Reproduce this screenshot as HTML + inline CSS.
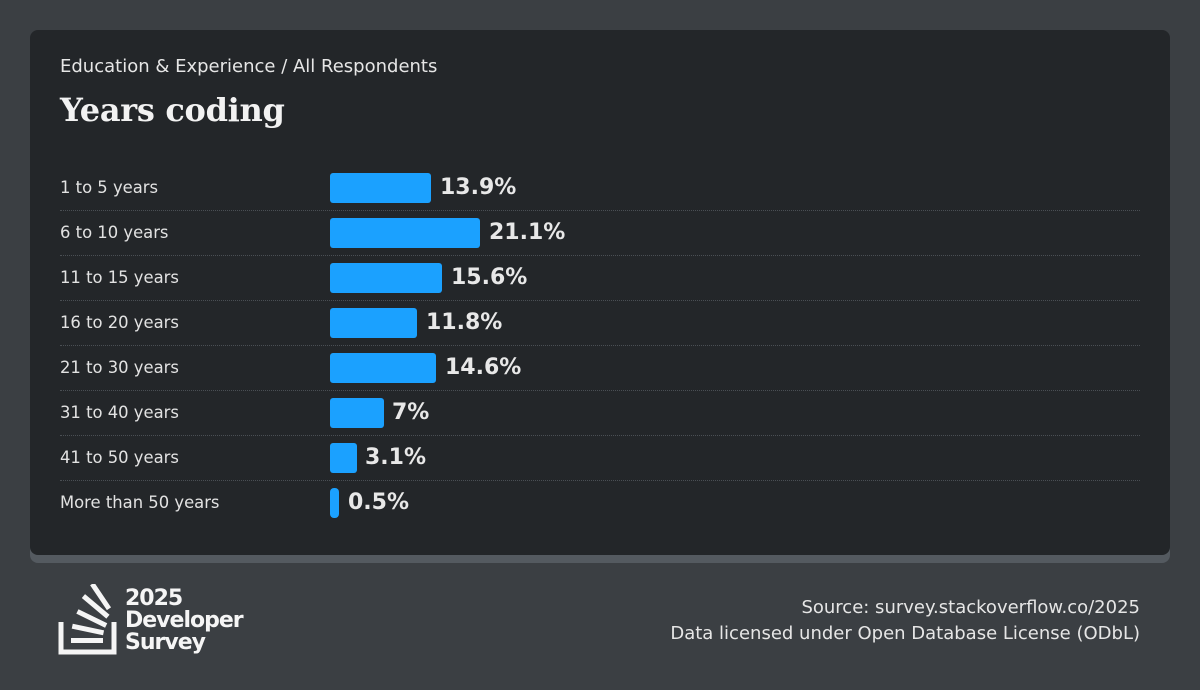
<!DOCTYPE html>
<html><head><meta charset="utf-8"><style>
body{margin:0;width:1200px;height:690px;background:#3b3f43;font-family:"DejaVu Sans","Liberation Sans",sans-serif;position:relative;overflow:hidden}
.shadow{position:absolute;left:30px;top:40px;width:1140px;height:523px;background:#545a60;border-radius:8px}
.card{position:absolute;left:30px;top:30px;width:1140px;height:525px;background:#232629;border-radius:8px}
.sub{position:absolute;left:60px;top:56px;font-size:18px;color:#e6e6e6}
.title{position:absolute;left:60px;top:91px;font-family:"DejaVu Serif",serif;font-weight:bold;font-size:32px;color:#f2f2f2;letter-spacing:-0.3px}
.row{position:absolute;left:60px;width:1080px;height:45px}
.row .lab{position:absolute;left:0;top:0;line-height:45px;font-size:16.4px;color:#e2e2e2}
.row .bar{position:absolute;left:270px;top:7.5px;height:30px;background:#1ba1ff;border-radius:3px}
.row .val{position:absolute;top:0;line-height:45px;font-size:22px;font-weight:bold;color:#e8e8e8}
.sep{position:absolute;left:60px;width:1080px;border-top:1px dotted #4a4f54}
.foot{position:absolute;right:60px;font-size:18px;color:#e6e6e6;text-align:right}
.logo{position:absolute;left:125px;top:588px;font-weight:bold;font-size:22px;line-height:22px;color:#f5f5f5;letter-spacing:-1px}
</style></head><body>
<div class="shadow"></div>
<div class="card"></div>
<div class="sub">Education &amp; Experience / All Respondents</div>
<div class="title">Years coding</div>

<div class="row" style="top:165px"><div class="lab">1 to 5 years</div><div class="bar" style="width:101px"></div><div class="val" style="left:380px">13.9%</div></div>
<div class="sep" style="top:210px"></div>
<div class="row" style="top:210px"><div class="lab">6 to 10 years</div><div class="bar" style="width:150px"></div><div class="val" style="left:429px">21.1%</div></div>
<div class="sep" style="top:255px"></div>
<div class="row" style="top:255px"><div class="lab">11 to 15 years</div><div class="bar" style="width:112px"></div><div class="val" style="left:391px">15.6%</div></div>
<div class="sep" style="top:300px"></div>
<div class="row" style="top:300px"><div class="lab">16 to 20 years</div><div class="bar" style="width:87px"></div><div class="val" style="left:366px">11.8%</div></div>
<div class="sep" style="top:345px"></div>
<div class="row" style="top:345px"><div class="lab">21 to 30 years</div><div class="bar" style="width:106px"></div><div class="val" style="left:385px">14.6%</div></div>
<div class="sep" style="top:390px"></div>
<div class="row" style="top:390px"><div class="lab">31 to 40 years</div><div class="bar" style="width:54px"></div><div class="val" style="left:332px">7%</div></div>
<div class="sep" style="top:435px"></div>
<div class="row" style="top:435px"><div class="lab">41 to 50 years</div><div class="bar" style="width:27px"></div><div class="val" style="left:305px">3.1%</div></div>
<div class="sep" style="top:480px"></div>
<div class="row" style="top:480px"><div class="lab">More than 50 years</div><div class="bar" style="width:9px;border-radius:4px"></div><div class="val" style="left:288px">0.5%</div></div>

<svg style="position:absolute;left:58px;top:584px" width="62" height="72" viewBox="0 0 62 72">
<path d="M3 38 V68 H56 V38" fill="none" stroke="#f5f5f5" stroke-width="5"/>
<rect x="13" y="54" width="32" height="5" fill="#f5f5f5"/>
<rect x="14" y="43" width="32" height="5" fill="#f5f5f5" transform="rotate(12 30 45)"/>
<rect x="18" y="32" width="32" height="5" fill="#f5f5f5" transform="rotate(26 34 34)"/>
<rect x="22" y="20" width="32" height="5" fill="#f5f5f5" transform="rotate(40 38 22)"/>
<rect x="28" y="10" width="30" height="5" fill="#f5f5f5" transform="rotate(56 43 12)"/>
</svg>
<div class="logo">2025<br>Developer<br>Survey</div>

<div class="foot" style="top:597px">Source: survey.stackoverflow.co/2025</div>
<div class="foot" style="top:623px">Data licensed under Open Database License (ODbL)</div>
</body></html>
